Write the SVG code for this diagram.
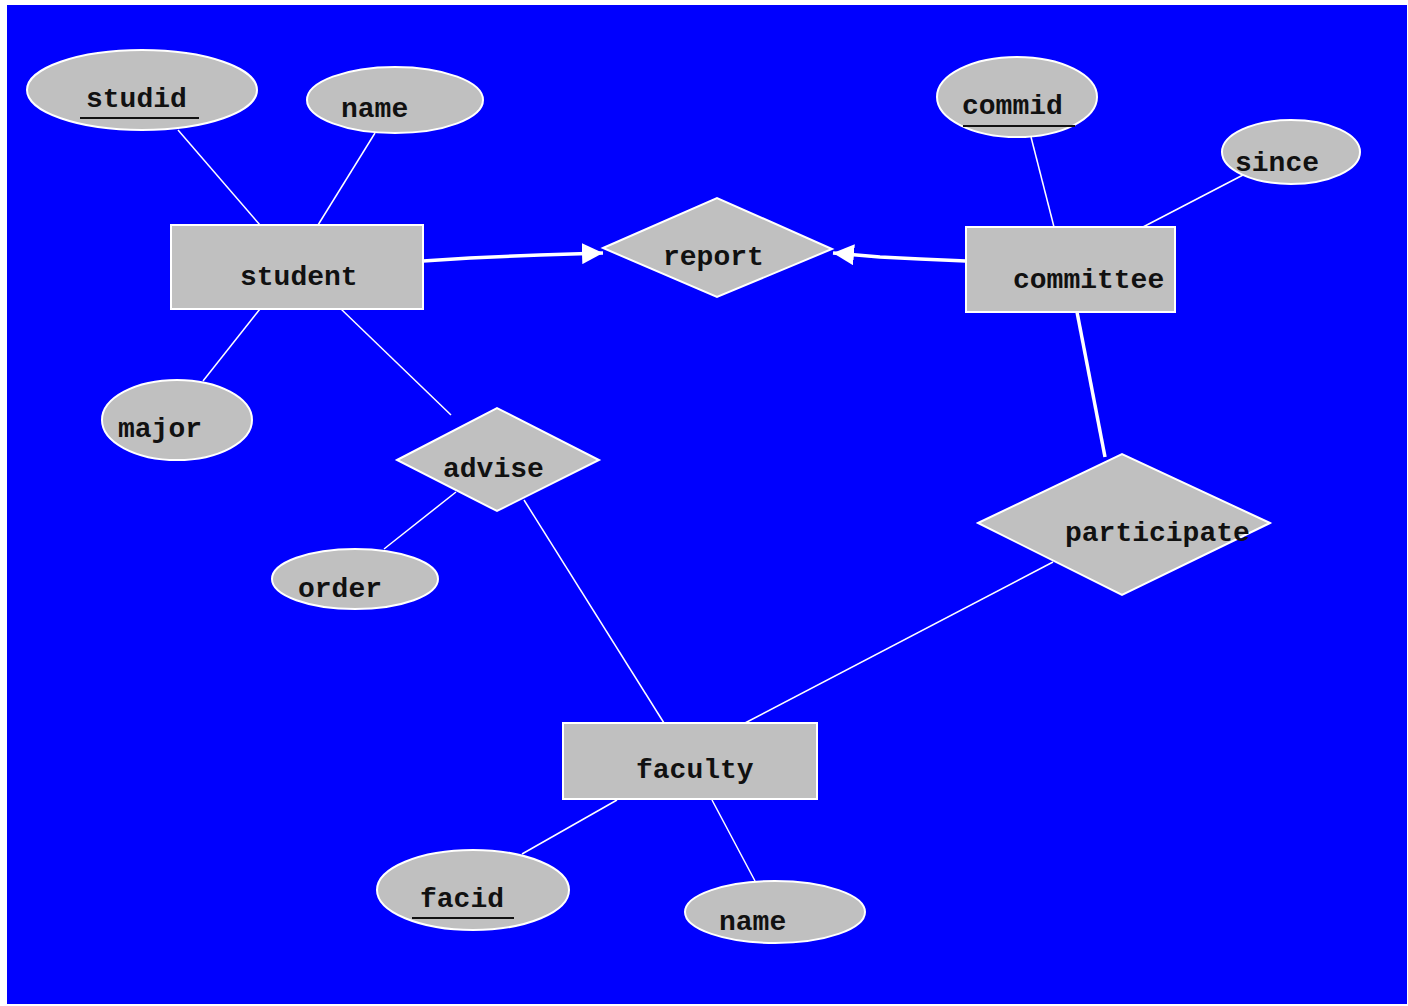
<svg xmlns="http://www.w3.org/2000/svg" width="1408" height="1006" viewBox="0 0 1408 1006">
  <style>
    .shape { fill: #c0c0c0; stroke: #ffffff; stroke-width: 2; }
    .label { font-family: "Liberation Mono", "Courier New", monospace; font-weight: bold; font-size: 28px; fill: #111111; }
    .link { stroke: #ffffff; stroke-width: 1.5; fill: none; }
    .thick { stroke: #ffffff; stroke-width: 3.5; fill: none; }
    .key { stroke: #111111; stroke-width: 2; }
  </style>
  <defs>
    <marker id="arrow" viewBox="0 0 10 10" refX="10" refY="5" markerWidth="6" markerHeight="6" orient="auto" markerUnits="strokeWidth">
      <path d="M0,0 L10,5 L0,10 Z" fill="#ffffff"/>
    </marker>
  </defs>

  <rect x="0" y="0" width="1408" height="1006" fill="#ffffff"/>
  <rect x="7" y="5" width="1400" height="999" fill="#0000fe"/>

  <g id="connectors">
    <line class="link" x1="178" y1="130" x2="260" y2="225"/>
    <line class="link" x1="375" y1="133" x2="318" y2="225"/>
    <line class="link" x1="260" y1="309" x2="203" y2="381"/>
    <line class="link" x1="341" y1="309" x2="451" y2="415"/>
    <line class="link" x1="456" y1="492" x2="384" y2="549"/>
    <line class="link" x1="524" y1="500" x2="664" y2="723"/>
    <line class="link" x1="1031" y1="137" x2="1054" y2="227"/>
    <line class="link" x1="1243" y1="175" x2="1143" y2="227"/>
    <line class="thick" x1="1077" y1="312" x2="1105" y2="457"/>
    <line class="link" x1="1053" y1="562" x2="745" y2="723"/>
    <line class="link" x1="617" y1="800" x2="522" y2="854"/>
    <line class="link" x1="712" y1="800" x2="755" y2="881"/>
    <polyline class="thick" points="423,261 470,258 540,255 603,253" marker-end="url(#arrow)"/>
    <polyline class="thick" points="966,261 920,259 880,257 833,253" marker-end="url(#arrow)"/>
  </g>

  <g id="student">
    <rect class="shape" x="171" y="225" width="252" height="84"/>
    <text class="label" x="240" y="285">student</text>
  </g>
  <g id="studid">
    <ellipse class="shape" cx="142" cy="90" rx="115" ry="40"/>
    <text class="label" x="86" y="107">studid</text>
    <line class="key" x1="80" y1="118" x2="199" y2="118"/>
  </g>
  <g id="student-name">
    <ellipse class="shape" cx="395" cy="100" rx="88" ry="33"/>
    <text class="label" x="341" y="117">name</text>
  </g>
  <g id="major">
    <ellipse class="shape" cx="177" cy="420" rx="75" ry="40"/>
    <text class="label" x="118" y="437">major</text>
  </g>
  <g id="report">
    <polygon class="shape" points="603,248 717,198 832,249 717,297"/>
    <text class="label" x="663" y="265">report</text>
  </g>
  <g id="committee">
    <rect class="shape" x="966" y="227" width="209" height="85"/>
    <text class="label" x="1013" y="288">committee</text>
  </g>
  <g id="commid">
    <ellipse class="shape" cx="1017" cy="97" rx="80" ry="40"/>
    <text class="label" x="962" y="114">commid</text>
    <line class="key" x1="963" y1="126" x2="1075" y2="126"/>
  </g>
  <g id="since">
    <ellipse class="shape" cx="1291" cy="152" rx="69" ry="32"/>
    <text class="label" x="1235" y="171">since</text>
  </g>
  <g id="advise">
    <polygon class="shape" points="397,460 497,408 599,460 497,511"/>
    <text class="label" x="443" y="477">advise</text>
  </g>
  <g id="order">
    <ellipse class="shape" cx="355" cy="579" rx="83" ry="30"/>
    <text class="label" x="298" y="597">order</text>
  </g>
  <g id="participate">
    <polygon class="shape" points="978,523 1122,454 1270,523 1122,595"/>
    <text class="label" x="1065" y="541">participate</text>
  </g>
  <g id="faculty">
    <rect class="shape" x="563" y="723" width="254" height="76"/>
    <text class="label" x="636" y="778">faculty</text>
  </g>
  <g id="facid">
    <ellipse class="shape" cx="473" cy="890" rx="96" ry="40"/>
    <text class="label" x="420" y="907">facid</text>
    <line class="key" x1="412" y1="918" x2="514" y2="918"/>
  </g>
  <g id="faculty-name">
    <ellipse class="shape" cx="775" cy="912" rx="90" ry="31"/>
    <text class="label" x="719" y="930">name</text>
  </g>
</svg>
